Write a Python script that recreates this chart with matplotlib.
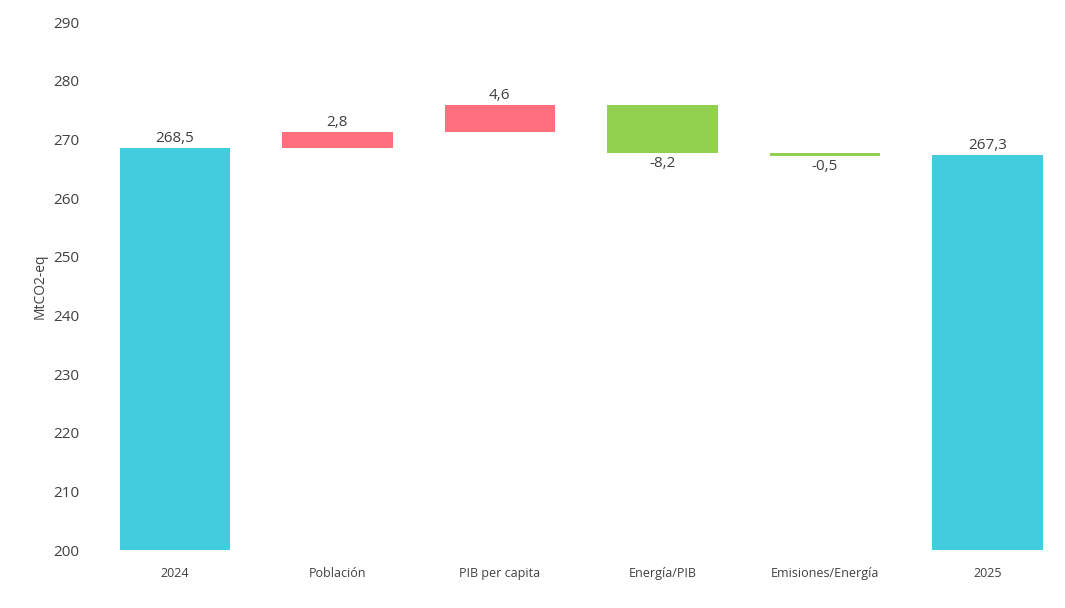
import matplotlib.pyplot as plt

plt.rcParams['font.family'] = ['Open Sans', 'DejaVu Sans']

# waterfall data
categories = ['2024', 'Población', 'PIB per capita', 'Energía/PIB', 'Emisiones/Energía', '2025']
start_value = 268.5
changes = [2.8, 4.6, -8.2, -0.5]
end_value = 267.3

c_total = '#41CDDE'
c_up = '#FF6F7D'
c_down = '#92D050'
text_col = '#404040'

fig = plt.figure(figsize=(10.65, 6.08), dpi=100)
ax = fig.add_axes([100 / 1065, 58 / 608, 946 / 1065, 528 / 608])

base = 200
width = 0.68

# first total bar
ax.bar(0, start_value - base, bottom=base, width=width, color=c_total)
ax.text(0, start_value + 0.3, f"{start_value:.1f}".replace('.', ','),
        ha='center', va='bottom', fontsize=11, color=text_col)

# step bars
level = start_value
for i, ch in enumerate(changes, start=1):
    lo = level if ch > 0 else level + ch
    col = c_up if ch > 0 else c_down
    ax.bar(i, abs(ch), bottom=lo, width=width, color=col)
    lbl = f"{ch:.1f}".replace('.', ',')
    if ch > 0:
        ax.text(i, level + ch + 0.3, lbl, ha='center', va='bottom', fontsize=11, color=text_col)
    else:
        ax.text(i, level + ch - 0.5, lbl, ha='center', va='top', fontsize=11, color=text_col)
    level += ch

# final total bar
ax.bar(5, end_value - base, bottom=base, width=width, color=c_total)
ax.text(5, end_value + 0.3, f"{end_value:.1f}".replace('.', ','),
        ha='center', va='bottom', fontsize=11, color=text_col)

ax.set_xlim(-0.46, 5.36)
ax.set_ylim(200, 290)
ax.set_yticks(range(200, 291, 10))
ax.set_xticks(range(len(categories)))
ax.set_xticklabels(categories, fontsize=9, color=text_col)
ax.tick_params(axis='x', length=0, pad=12)
ax.tick_params(axis='y', length=0, pad=15, labelsize=11, labelcolor=text_col)
ax.set_ylabel('MtCO2-eq', fontsize=10, color=text_col, labelpad=4)
for s in ax.spines.values():
    s.set_visible(False)

fig.savefig('out.png', dpi=100)
plt.close(fig)
